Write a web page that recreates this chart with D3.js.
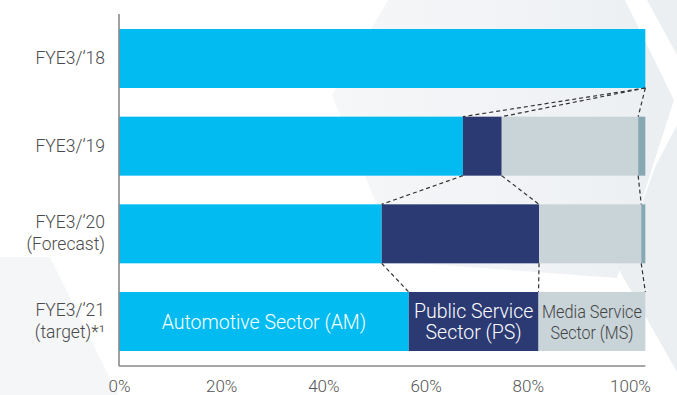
<!DOCTYPE html>
<html>
<head>
<meta charset="utf-8">
<script src="https://cdn.jsdelivr.net/npm/d3@7"></script>
<style>
  body { margin: 0; background: #fff; }
  svg { display: block; font-family: Roboto, "Noto Sans", sans-serif; }
</style>
</head>
<body>
<div id="chart"></div>
<script>
(function () {

  // rows, top to bottom
  const categories = ["FYE3/’18", "FYE3/’19", "FYE3/’20\n(Forecast)", "FYE3/’21\n(target)*¹"]

  // share of sales by sector, % as read against the printed axis
  const amValues = [103.0, 67.3, 51.4, 56.7]
  const psValues = [0, 7.6, 30.8, 25.4]
  const msValues = [0, 26.7, 20.0, 20.9]
  const otherValues = [0, 1.4, 0.8, 0]

  const seriesKeys = ["AM", "PS", "MS", "Other"]
  const seriesColors = ["#02bcf1", "#2c3a74", "#c9d4d9", "#87a7b3"]

  const tickValues = [0, 20, 40, 60, 80, 100]

  const width = 677
  const height = 395

  const svg = d3.select("#chart").append("svg")
      .attr("width", width)
      .attr("height", height)

  // faint hexagon shapes in the background
  const defs = svg.append("defs")
  const grad = defs.append("linearGradient").attr("id", "bgfade")
  grad.append("stop").attr("offset", "0%").attr("stop-color", "#f6f7f9")
  grad.append("stop").attr("offset", "100%").attr("stop-color", "#eceff2")

  const bg = svg.append("g")
  bg.append("polygon")
    .attr("points", "388,0 625,0 674,100 617,278 400,262 332,95")
    .attr("fill", "url(#bgfade)")
  bg.append("polygon")
    .attr("points", "647,0 677,0 677,55")
    .attr("fill", "#eceff2")
  bg.append("polygon")
    .attr("points", "677,125 656,165 618,268 677,372")
    .attr("fill", "#eceff2")
  bg.append("polygon")
    .attr("points", "0,257 50,257 118,395 0,395")
    .attr("fill", "#f4f6f8")

  const xPositionScale = d3.scaleLinear()
    .domain([0, 100])
    .range([119, 630])

  const yPositionScale = d3.scaleBand()
    .domain(categories)
    .range([29, 351])
    .paddingInner(0.327)
    .paddingOuter(0)

  const rows = categories.map((c, i) => ({
    category: c,
    AM: amValues[i],
    PS: psValues[i],
    MS: msValues[i],
    Other: otherValues[i]
  }))

  const stacked = d3.stack().keys(seriesKeys)(rows)

  svg.append("g")
    .selectAll("g")
    .data(stacked)
    .join("g")
    .attr("fill", (d, i) => seriesColors[i])
    .selectAll("rect")
    .data(d => d)
    .join("rect")
    .attr("x", d => xPositionScale(d[0]))
    .attr("y", d => yPositionScale(d.data.category))
    .attr("width", d => Math.max(0, xPositionScale(d[1]) - xPositionScale(d[0])))
    .attr("height", yPositionScale.bandwidth())

  // dashed connectors between segment boundaries of neighbouring rows
  const links = []
  for (let i = 0; i < rows.length - 1; i++) {
    for (let k = 0; k < 3; k++) {
      links.push({
        x1: xPositionScale(stacked[k][i][1]),
        y1: yPositionScale(rows[i].category) + yPositionScale.bandwidth(),
        x2: xPositionScale(stacked[k][i + 1][1]),
        y2: yPositionScale(rows[i + 1].category)
      })
    }
  }
  svg.append("g")
    .selectAll("line")
    .data(links)
    .join("line")
    .attr("x1", d => d.x1)
    .attr("y1", d => d.y1)
    .attr("x2", d => d.x2)
    .attr("y2", d => d.y2)
    .attr("stroke", "#333")
    .attr("stroke-width", 1.2)
    .attr("stroke-dasharray", "4,3")

  // axes
  const axisColor = "#8a8a8a"
  const maxTotal = d3.max(rows, d => d.AM + d.PS + d.MS + d.Other)
  const baseY = 366

  svg.append("line")
    .attr("x1", xPositionScale(0))
    .attr("x2", xPositionScale(0))
    .attr("y1", 14)
    .attr("y2", baseY)
    .attr("stroke", axisColor)
    .attr("stroke-width", 1.6)

  svg.append("line")
    .attr("x1", xPositionScale(0))
    .attr("x2", xPositionScale(maxTotal))
    .attr("y1", baseY)
    .attr("y2", baseY)
    .attr("stroke", axisColor)
    .attr("stroke-width", 1.6)

  const xAxis = d3.axisBottom(xPositionScale)
    .tickValues(tickValues)
    .tickFormat(d => d + "%")
    .tickSize(0)
    .tickPadding(0)
  const xg = svg.append("g")
    .attr("transform", "translate(0," + baseY + ")")
    .call(xAxis)
  xg.select(".domain").remove()
  xg.selectAll("text")
    .attr("y", 26)
    .attr("dy", 0)
    .attr("fill", "#555")
    .attr("font-size", 17)
    .attr("font-family", "Roboto, sans-serif")
    .attr("font-weight", 300)

  // category labels
  const catLabels = svg.append("g")
    .selectAll("text")
    .data(rows)
    .join("text")
    .attr("text-anchor", "end")
    .attr("fill", "#4a4a4a")
    .attr("font-size", 17.5)
    .attr("font-weight", 300)
  catLabels.each(function (d) {
    const lines = d.category.split("\n")
    const cy = yPositionScale(d.category) + yPositionScale.bandwidth() / 2
    const offsets = lines.length === 1 ? [6] : [-6, 16.5]
    d3.select(this).selectAll("tspan")
      .data(lines)
      .join("tspan")
      .attr("x", 105)
      .attr("y", (l, j) => cy + offsets[j])
      .text(l => l)
  })

  // sector names inside the last bar, one text element per line
  const last = rows.length - 1
  const sectorLabels = [
    { k: 0, lines: ["Automotive Sector (AM)"], color: "#fff", size: 19.5 },
    { k: 1, lines: ["Public Service", "Sector (PS)"], color: "#fff", size: 19.5 },
    { k: 2, lines: ["Media Service", "Sector (MS)"], color: "#444", size: 19, fit: [100, 83] }
  ]
  const lastCy = yPositionScale(rows[last].category) + yPositionScale.bandwidth() / 2
  const labelLines = []
  sectorLabels.forEach(d => {
    const seg = stacked[d.k][last]
    const cx = (xPositionScale(seg[0]) + xPositionScale(seg[1])) / 2
    const offsets = d.lines.length === 1 ? [7] : [-3.5, 17.5]
    d.lines.forEach((l, j) => {
      labelLines.push({ text: l, x: cx, y: lastCy + offsets[j], color: d.color, size: d.size, fit: d.fit ? d.fit[j] : null })
    })
  })

  const lineText = svg.append("g")
    .selectAll("text")
    .data(labelLines)
    .join("text")
    .attr("text-anchor", "middle")
    .attr("x", d => d.x)
    .attr("y", d => d.y)
    .attr("fill", d => d.color)
    .attr("font-size", d => d.size)
    .attr("font-weight", 300)
    .text(d => d.text)

  // the media label is set in a narrower cut
  lineText.filter(d => d.fit)
    .attr("textLength", d => d.fit)
    .attr("lengthAdjust", "spacingAndGlyphs")

})();
</script>
</body>
</html>
